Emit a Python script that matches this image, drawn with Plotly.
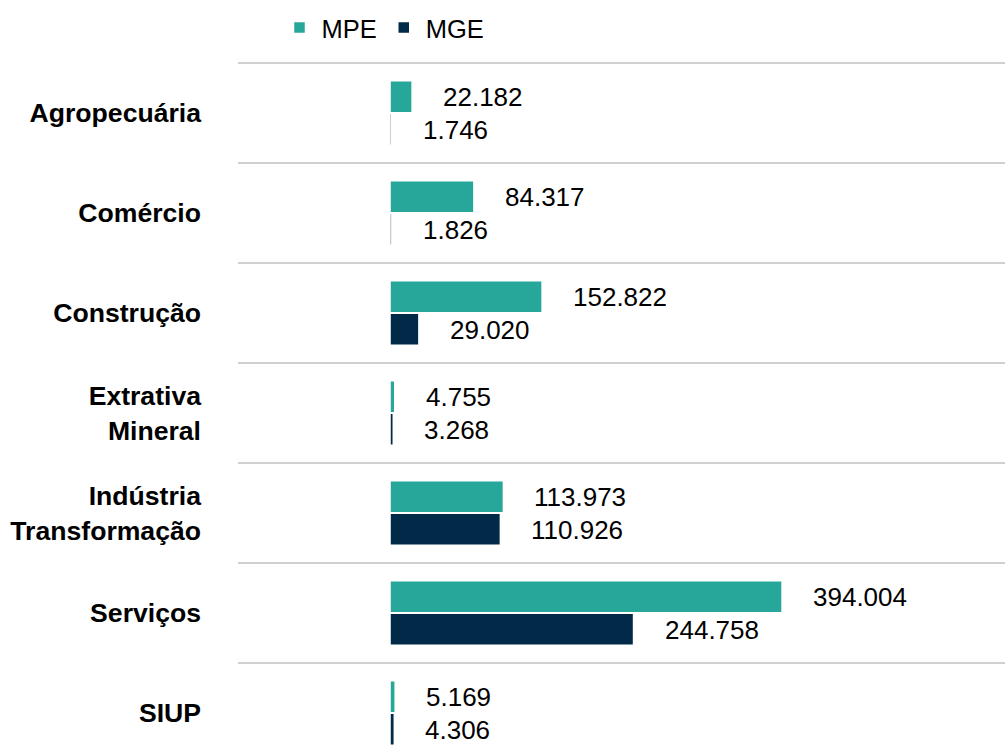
import plotly.graph_objects as go

categories = ["Agropecuária", "Comércio", "Construção", "Extrativa<br>Mineral",
              "Indústria<br>Transformação", "Serviços", "SIUP"]
mpe = [22182, 84317, 152822, 4755, 113973, 394004, 5169]
mge = [1746, 1826, 29020, 3268, 110926, 244758, 4306]

def fmt(v):
    return f"{v:,}".replace(",", ".")

MPE_COLOR = "#27A79A"
MGE_COLOR = "#002A48"
FONT = "Liberation Sans, Arial, sans-serif"

fig = go.Figure()
fig.add_trace(go.Bar(name="MPE", y=categories, x=mpe, orientation="h",
                     marker=dict(color=MPE_COLOR, line=dict(color="white", width=1.5))))
fig.add_trace(go.Bar(name="MGE", y=categories, x=mge, orientation="h",
                     marker=dict(color=MGE_COLOR, line=dict(color="white", width=1.5))))

annotations = []
for cat, a, b in zip(categories, mpe, mge):
    annotations.append(dict(x=a, y=cat, xref="x", yref="y", text=fmt(a), showarrow=False,
                            xanchor="left", yanchor="middle", xshift=29, yshift=16.5,
                            font=dict(family=FONT, size=26, color="#000")))
    annotations.append(dict(x=b, y=cat, xref="x", yref="y", text=fmt(b), showarrow=False,
                            xanchor="left", yanchor="middle", xshift=29, yshift=-16.5,
                            font=dict(family=FONT, size=26, color="#000")))

fig.update_layout(
    width=1005, height=756,
    margin=dict(l=238, r=0, t=61, b=0),
    paper_bgcolor="white", plot_bgcolor="white",
    barmode="group", bargap=0.35, bargroupgap=0.02,
    font=dict(family=FONT, size=26, color="#000"),
    legend=dict(orientation="h", x=0.0515, xanchor="left", y=1.0475, yanchor="middle",
                font=dict(family=FONT, size=25.5, color="#000"), traceorder="normal",
                itemwidth=34, itemclick=False),
    annotations=annotations,
    xaxis=dict(range=[-152800, 618100], showgrid=False, zeroline=False,
               showticklabels=False, ticks="", showline=False),
    yaxis=dict(type="category", categoryorder="array", categoryarray=categories,
               range=[6.43, -0.52], tickson="boundaries", showgrid=True,
               gridcolor="#d0d0d0", gridwidth=2, ticks="", showline=False,
               zeroline=False, ticklabelstandoff=36,
               tickfont=dict(family=FONT, size=26.6, color="#000", weight="bold")),
)

fig.write_html("out.html")
